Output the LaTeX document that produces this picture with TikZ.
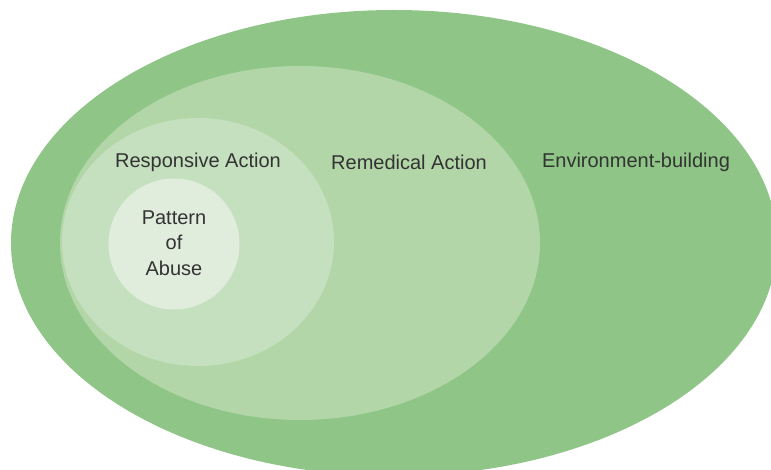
\documentclass[tikz,border=0pt]{standalone}
\usepackage{fontspec}
\setmainfont{Liberation Sans}
\usetikzlibrary{shapes.geometric}
\definecolor{outerg}{HTML}{8FC587}
\definecolor{remg}{HTML}{B3D6A8}
\definecolor{resg}{HTML}{C5E0BE}
\definecolor{patg}{HTML}{E0EDDC}
\definecolor{txt}{HTML}{333333}
\tikzset{
  zone/.style={ellipse, draw=none, inner sep=0pt},
  lbl/.style={text=txt, font=\fontsize{20}{25.5}\selectfont, align=center, inner sep=0pt}
}
\begin{document}
\begin{tikzpicture}[x=1pt,y=-1pt]
\useasboundingbox (0,0) rectangle (771,470);
\clip (0,0) rectangle (771,470);
\node[zone, fill=outerg, minimum width=766pt, minimum height=466pt] (outer) at (394,243) {};
\node[zone, fill=remg, minimum width=480pt, minimum height=354pt] (rem) at (300,243) {};
\node[zone, fill=resg, minimum width=272pt, minimum height=248pt] (res) at (198,242) {};
\node[zone, fill=patg, minimum width=131pt, minimum height=131pt] (pat) at (174,244) {};
\node[lbl] (tres) at (198,162) {Responsive Action};
\node[lbl] (trem) at (409,162) {Remedical Action};
\node[lbl] (tenv) at (636,162) {Environment-building};
\node[lbl] (tpat) at (174,243) {Pattern\\of\\Abuse};
\end{tikzpicture}
\end{document}
